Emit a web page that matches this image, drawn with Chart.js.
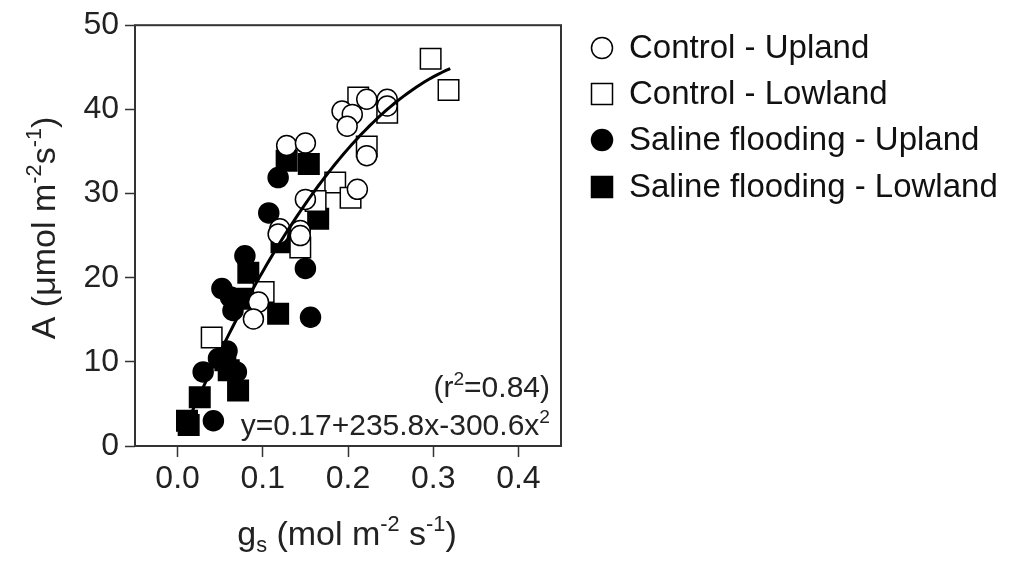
<!DOCTYPE html>
<html>
<head>
<meta charset="utf-8">
<script src="https://cdn.jsdelivr.net/npm/chart.js@4.4.1/dist/chart.umd.min.js"></script>
<style>
  html, body { margin: 0; padding: 0; background: #fff; }
</style>
</head>
<body>
<canvas id="chart" width="1009" height="561"></canvas>
<script>
// series names (legend order)
var seriesNames = ['Control - Upland', 'Control - Lowland', 'Saline flooding - Upland', 'Saline flooding - Lowland'];

// [gs, A] pairs
var controlUpland = [
  [0.128, 35.7], [0.150, 36.0], [0.193, 39.8], [0.205, 39.4], [0.199, 38.0],
  [0.222, 41.2], [0.246, 41.2], [0.246, 40.4], [0.222, 34.5], [0.211, 30.5],
  [0.150, 29.3], [0.120, 25.8], [0.144, 25.6], [0.144, 25.0], [0.118, 25.2],
  [0.095, 17.1], [0.089, 15.1]
];
var controlLowland = [
  [0.297, 46.0], [0.318, 42.3], [0.212, 41.4], [0.246, 39.6], [0.222, 35.6],
  [0.185, 31.3], [0.203, 29.5], [0.162, 29.1], [0.144, 23.6], [0.101, 18.3],
  [0.040, 12.9]
];
var salineUpland = [
  [0.118, 31.9], [0.107, 27.7], [0.079, 22.6], [0.150, 21.1], [0.156, 15.3],
  [0.052, 18.7], [0.062, 17.7], [0.065, 16.1], [0.058, 11.3], [0.030, 8.8],
  [0.069, 8.8], [0.048, 10.4], [0.042, 3.0]
];
var salineLowland = [
  [0.128, 33.9], [0.154, 33.5], [0.165, 27.0], [0.122, 24.2], [0.083, 20.6],
  [0.075, 17.5], [0.118, 15.7], [0.056, 10.2], [0.060, 9.0], [0.071, 6.6],
  [0.026, 5.8], [0.011, 3.0], [0.013, 2.5]
];

// fitted curve y = a + b x + c x^2 as printed on the chart
var fitCoef = [0.17, 235.8, -300.6];
var fitRange = [0.01, 0.32];

var xTicks = [0, 0.1, 0.2, 0.3, 0.4];
var yTicks = [0, 10, 20, 30, 40, 50];

var FONT = '"Liberation Sans", Arial, sans-serif';

function toPoints(arr) {
  return arr.map(function (p) { return { x: p[0], y: p[1] }; });
}

var fitPoints = [];
for (var gx = fitRange[0]; gx <= fitRange[1] + 1e-9; gx += 0.005) {
  fitPoints.push({ x: gx, y: fitCoef[0] + fitCoef[1] * gx + fitCoef[2] * gx * gx });
}

// text with super/subscripts
function drawRich(ctx, parts, x, y, size, align) {
  var widths = [], total = 0;
  parts.forEach(function (p) {
    var s = p[1] ? size * 0.64 : size;
    ctx.font = s + 'px ' + FONT;
    var w = ctx.measureText(p[0]).width;
    widths.push(w);
    total += w;
  });
  var cx = x;
  if (align === 'center') cx = x - total / 2;
  if (align === 'right') cx = x - total;
  ctx.textAlign = 'left';
  ctx.textBaseline = 'alphabetic';
  parts.forEach(function (p, i) {
    var s = p[1] ? size * 0.64 : size;
    var dy = 0;
    if (p[1] === 'sup') dy = -size * 0.4;
    if (p[1] === 'sub') dy = size * 0.2;
    ctx.font = s + 'px ' + FONT;
    ctx.fillText(p[0], cx, y + dy);
    cx += widths[i];
  });
}

var decorPlugin = {
  id: 'decor',
  beforeDatasetsDraw: function (chart) {
    var ctx = chart.ctx, a = chart.chartArea;
    ctx.save();
    ctx.strokeStyle = '#333';
    ctx.lineWidth = 2;
    ctx.strokeRect(a.left, a.top, a.right - a.left, a.bottom - a.top);
    ctx.restore();
  },
  afterDraw: function (chart) {
    var ctx = chart.ctx;
    ctx.save();
    ctx.fillStyle = '#222';

    // axis titles
    drawRich(ctx, [['g', ''], ['s', 'sub'], [' (mol m', ''], ['-2', 'sup'], [' s', ''], ['-1', 'sup'], [')', '']],
      347, 545, 34, 'center');
    ctx.save();
    ctx.translate(55, 228);
    ctx.rotate(-Math.PI / 2);
    drawRich(ctx, [['A (\u03bcmol m', ''], ['-2', 'sup'], ['s', ''], ['-1', 'sup'], [')', '']],
      0, 0, 34, 'center');
    ctx.restore();

    // fit annotation
    drawRich(ctx, [['(r', ''], ['2', 'sup'], ['=0.84)', '']], 550, 397, 30, 'right');
    drawRich(ctx, [['y=0.17+235.8x-300.6x', ''], ['2', 'sup']], 550, 435, 30, 'right');

    // legend
    var rows = [48, 94, 140, 187];
    chart.data.datasets.slice(0, 4).forEach(function (ds, i) {
      var cy = rows[i], mx = 602;
      ctx.fillStyle = ds.backgroundColor;
      ctx.strokeStyle = '#000';
      ctx.lineWidth = 1.5;
      ctx.beginPath();
      if (ds.pointStyle === 'circle') {
        ctx.arc(mx, cy, 10.5, 0, Math.PI * 2);
      } else {
        ctx.rect(mx - 10.5, cy - 10.5, 21, 21);
      }
      ctx.fill();
      ctx.stroke();
      ctx.fillStyle = '#111';
      ctx.font = '33px ' + FONT;
      ctx.textAlign = 'left';
      ctx.textBaseline = 'middle';
      ctx.fillText(seriesNames[i], 629, cy + 1);
    });
    ctx.restore();
  }
};

function scatterSet(i, data, style, fill, order) {
  return {
    label: seriesNames[i],
    data: toPoints(data),
    pointStyle: style,
    pointRadius: style === 'circle' ? 10 : 14.5,
    pointHoverRadius: style === 'circle' ? 10 : 14.5,
    backgroundColor: fill,
    borderColor: '#000',
    borderWidth: 1.5,
    pointBorderWidth: 1.5,
    showLine: false,
    order: order
  };
}

var ctx = document.getElementById('chart').getContext('2d');
new Chart(ctx, {
  type: 'scatter',
  data: {
    datasets: [
      scatterSet(0, controlUpland, 'circle', '#fff', 1),
      scatterSet(1, controlLowland, 'rect', '#fff', 2),
      scatterSet(2, salineUpland, 'circle', '#000', 3),
      scatterSet(3, salineLowland, 'rect', '#000', 4),
      {
        type: 'line',
        label: 'fit',
        data: fitPoints,
        borderColor: '#000',
        borderWidth: 3,
        pointRadius: 0,
        pointHoverRadius: 0,
        fill: false,
        tension: 0,
        order: 0
      }
    ]
  },
  options: {
    responsive: false,
    animation: false,
    devicePixelRatio: 1,
    layout: { padding: { left: 0, top: 24, right: 448, bottom: 0 } },
    plugins: {
      legend: { display: false },
      tooltip: { enabled: false }
    },
    scales: {
      x: {
        type: 'linear',
        min: -0.05,
        max: 0.45,
        afterBuildTicks: function (s) { s.ticks = xTicks.map(function (v) { return { value: v }; }); },
        afterFit: function (s) { s.height = 115; },
        ticks: {
          callback: function (v) { return v.toFixed(1); },
          font: { size: 32, family: FONT },
          color: '#222',
          padding: 3,
          maxRotation: 0
        },
        grid: { drawOnChartArea: false, drawTicks: true, tickLength: 11, tickWidth: 1.5, tickColor: '#333' },
        border: { display: false }
      },
      y: {
        type: 'linear',
        min: 0,
        max: 50,
        afterBuildTicks: function (s) { s.ticks = yTicks.map(function (v) { return { value: v }; }); },
        afterFit: function (s) { s.width = 135; },
        ticks: {
          font: { size: 32, family: FONT },
          color: '#222',
          padding: 6
        },
        grid: { drawOnChartArea: false, drawTicks: true, tickLength: 10, tickWidth: 1.5, tickColor: '#333' },
        border: { display: false }
      }
    }
  },
  plugins: [decorPlugin]
});
</script>
</body>
</html>
